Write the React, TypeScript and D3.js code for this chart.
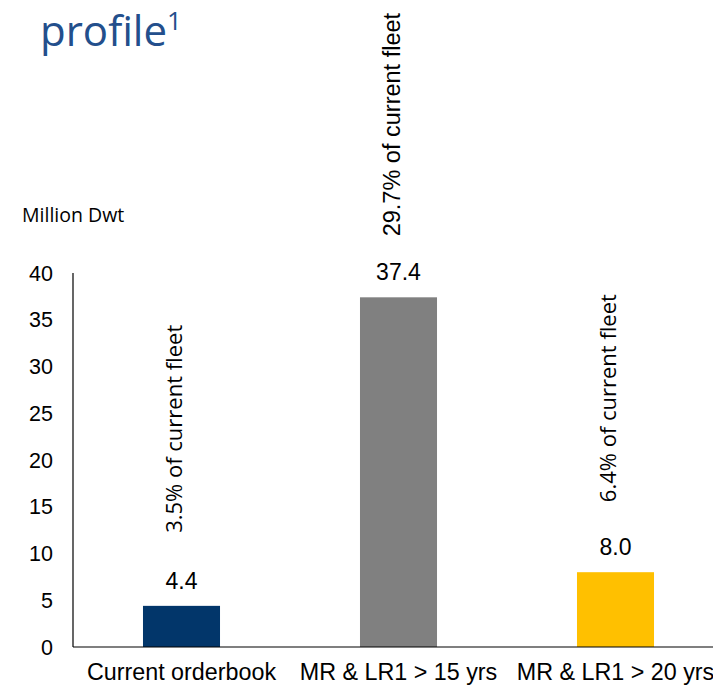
import React from "react";
import * as d3 from "d3";

const categories = ["Current orderbook", "MR & LR1 > 15 yrs", "MR & LR1 > 20 yrs"];
const values = [4.4, 37.4, 8.0];
const valueLabels = ["4.4", "37.4", "8.0"];
const shareLabels = ["3.5% of current fleet", "29.7% of current fleet", "6.4% of current fleet"];
const yTicks = [0, 5, 10, 15, 20, 25, 30, 35, 40];

const barColors = ["#02366A", "#808080", "#FFC000"];
const shareFonts = ["'Open Sans', sans-serif", "'Liberation Sans', Arial, sans-serif", "'Open Sans', sans-serif"];
const shareSizes = [22, 23.5, 22];
const shareGap = [73, 61, 70];

const W = 713;
const H = 686;
const axisX = 73;
const y0 = 647;
const yTop = 273;

export default function App() {
  const x = d3
    .scaleBand<string>()
    .domain(categories)
    .range([axisX, axisX + 651])
    .paddingInner(0.645)
    .paddingOuter(0.3225);
  const y = d3.scaleLinear().domain([0, 40]).range([y0, yTop]);
  const arial = "'Liberation Sans', Arial, sans-serif";

  return (
    <svg
      width={W}
      height={H}
      style={{ position: "absolute", left: 0, top: 0, background: "#fff" }}
    >
      <text
        x={40}
        y={46}
        fontFamily="'Open Sans', sans-serif"
        fontSize={42}
        fill="#234F8C"
      >
        profile
        <tspan fontSize={26} dy={-16}>1</tspan>
      </text>
      <text x={22} y={222} fontFamily="'Open Sans', sans-serif" fontSize={19.5} fill="#000">
        Million Dwt
      </text>

      {yTicks.map((t) => (
        <text
          key={t}
          x={53}
          y={y(t)}
          dy="0.36em"
          textAnchor="end"
          fontFamily={arial}
          fontSize={21.5}
          fill="#000"
        >
          {t}
        </text>
      ))}

      {categories.map((c, i) => {
        const bx = x(c)!;
        const bw = x.bandwidth();
        const cx = bx + bw / 2;
        const top = y(values[i]);
        return (
          <g key={c}>
            <rect x={bx} y={top} width={bw} height={y0 - top} fill={barColors[i]} />
            <text
              x={cx}
              y={top - 17}
              textAnchor="middle"
              fontFamily={arial}
              fontSize={23}
              fill="#000"
            >
              {valueLabels[i]}
            </text>
            <text
              transform={`translate(${cx - 7},${top - shareGap[i]}) rotate(-90)`}
              dy="0.36em"
              textAnchor="start"
              fontFamily={shareFonts[i]}
              fontSize={shareSizes[i]}
              fill="#000"
            >
              {shareLabels[i]}
            </text>
            <text
              x={cx}
              y={680}
              textAnchor="middle"
              fontFamily={arial}
              fontSize={23.3}
              fill="#000"
            >
              {c}
            </text>
          </g>
        );
      })}

      <line x1={axisX} x2={axisX} y1={yTop} y2={y0} stroke="#000" strokeWidth={1.2} />
      <line x1={axisX} x2={W + 20} y1={y0} y2={y0} stroke="#000" strokeWidth={1.2} />
    </svg>
  );
}
